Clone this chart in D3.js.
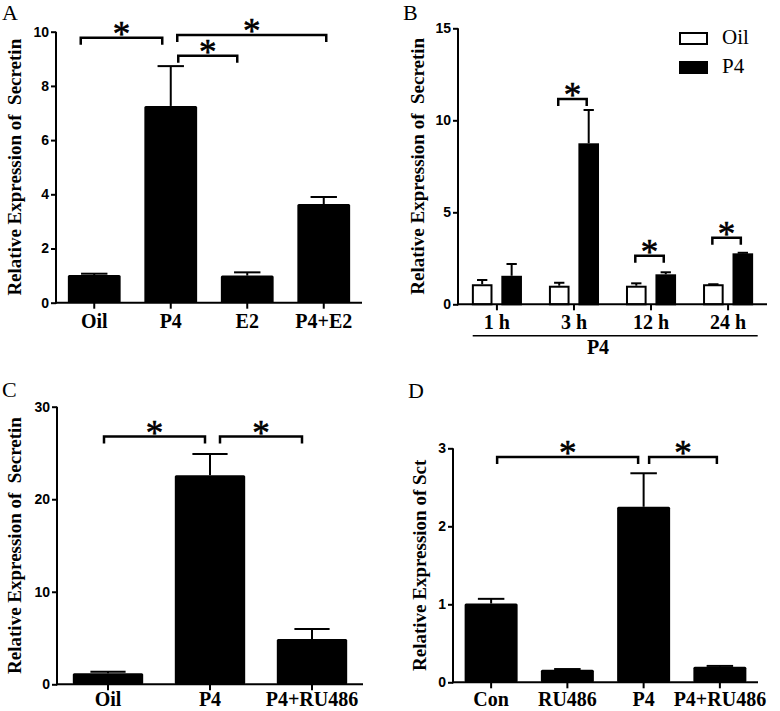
<!DOCTYPE html>
<html>
<head>
<meta charset="utf-8">
<script src="https://cdn.jsdelivr.net/npm/d3@7"></script>
<style>
  html, body { margin: 0; padding: 0; background: #fff; }
  svg { display: block; }
</style>
</head>
<body>
<svg id="chart" width="780" height="711"></svg>
<script>
// ---------- DATA ----------
// Panel A
const catsA = ["Oil", "P4", "E2", "P4+E2"];
const meanA = [1.02, 7.26, 1.00, 3.64];
const semA  = [0.05, 1.47, 0.12, 0.26];
const ticksA = [0, 2, 4, 6, 8, 10];
const sigA = [ // [from, to, bracket height]
  ["Oil", "P4", 9.78],
  ["P4", "P4+E2", 9.88],
  ["P4", "E2", 9.11]
];
// Panel B
const timesB = ["1 h", "3 h", "12 h", "24 h"];
const seriesB = ["Oil", "P4"];
const oilB = [1.09, 1.01, 1.01, 1.09];
const oilSemB = [0.23, 0.16, 0.13, 0.00];
const p4B = [1.55, 8.75, 1.63, 2.77];
const p4SemB = [0.64, 1.81, 0.11, 0.03];
const ticksB = [0, 5, 10, 15];
const sigB = [ ["3 h", 11.16], ["12 h", 2.64], ["24 h", 3.62] ];
// Panel C
const catsC = ["Oil", "P4", "P4+RU486"];
const meanC = [1.19, 22.6, 4.9];
const semC  = [0.17, 2.3, 1.08];
const ticksC = [0, 10, 20, 30];
const sigC = [ ["Oil", "P4", 26.77], ["P4", "P4+RU486", 26.77] ];
// Panel D
const catsD = ["Con", "RU486", "P4", "P4+RU486"];
const meanD = [1.01, 0.16, 2.25, 0.20];
const semD  = [0.06, 0.01, 0.43, 0.01];
const ticksD = [0, 1, 2, 3];
const sigD = [ ["Con", "P4", 2.89], ["P4", "P4+RU486", 2.89] ];

// ---------- DRAWING ----------
const svg = d3.select("#chart");
const SERIF = "'Liberation Serif', 'Times New Roman', serif";
const SANS = "'Liberation Sans', Arial, sans-serif";

function yAxis(g, y, ticks, x0) {
  const ax = g.append("g").attr("transform", `translate(${x0},0)`)
    .call(d3.axisLeft(y).tickValues(ticks).tickSize(5).tickPadding(2).tickFormat(d3.format("d")));
  ax.select(".domain").attr("stroke-width", 2).attr("d", `M0,${y(0)+1}V${y(ticks[ticks.length-1])}`);
  ax.selectAll(".tick line").attr("stroke-width", 2);
  ax.selectAll(".tick text").style("font-family", SANS).style("font-weight", "bold")
    .style("font-size", "14px").attr("fill", "#000");
  ax.attr("font-family", null).attr("font-size", null);
  return ax;
}
function xAxis(g, xScale, y0, x0, x1, pad) {
  const ax = g.append("g").attr("transform", `translate(0,${y0})`)
    .call(d3.axisBottom(xScale).tickSize(6).tickPadding(pad));
  ax.select(".domain").attr("stroke-width", 2).attr("d", `M${x0-1},0H${x1}`);
  ax.selectAll(".tick line").attr("stroke-width", 2);
  ax.selectAll(".tick text").style("font-family", SERIF).style("font-weight", "bold")
    .style("font-size", "20px").attr("fill", "#000");
  return ax;
}
function yLabel(text, cx, cy) {
  svg.append("text").attr("transform", `translate(${cx},${cy}) rotate(-90)`)
    .attr("text-anchor", "middle").style("font-family", SERIF).style("font-weight", "bold")
    .style("font-size", "19px").text(text);
}
function letter(t, x, y) {
  svg.append("text").attr("x", x).attr("y", y).style("font-family", SERIF)
    .style("font-size", "22px").text(t);
}
function bracket(g, xa, xb, yy) {
  g.append("path").attr("d", `M${xa},${yy+7}V${yy}H${xb}V${yy+7}`)
    .attr("fill", "none").attr("stroke", "#000").attr("stroke-width", 2.5);
  g.append("text").attr("x", (xa+xb)/2).attr("y", yy + 8).attr("text-anchor", "middle")
    .style("font-family", SERIF).style("font-size", "35px").attr("stroke", "#000")
    .attr("stroke-width", 0.6).text("*");
}
function errBar(g, cx, yTop, yErr, capW) {
  g.append("line").attr("x1", cx).attr("x2", cx).attr("y1", yTop).attr("y2", yErr)
    .attr("stroke", "#000").attr("stroke-width", 2);
  g.append("line").attr("x1", cx - capW/2).attr("x2", cx + capW/2).attr("y1", yErr).attr("y2", yErr)
    .attr("stroke", "#000").attr("stroke-width", 2);
}

function simplePanel(o) {
  const g = svg.append("g");
  const x = d3.scaleBand().domain(o.cats).range([o.x0, o.x1]).paddingInner(o.pi).paddingOuter(o.pi/2);
  const y = d3.scaleLinear().domain([0, o.ymax]).range([o.y0, o.y1]);
  const bw = x.bandwidth();
  o.cats.forEach((c, i) => {
    errBar(g, x(c) + bw/2, y(o.mean[i]), y(o.mean[i] + o.sem[i]), bw/2);
  });
  g.selectAll("rect.bar").data(o.cats).join("rect").attr("class", "bar")
    .attr("x", d => x(d)).attr("width", bw)
    .attr("y", (d, i) => y(o.mean[i])).attr("height", (d, i) => y(0) - y(o.mean[i]))
    .attr("fill", "#000").attr("rx", 1.5);
  yAxis(g, y, o.ticks, o.x0);
  xAxis(g, x, o.y0, o.x0, o.x1, o.pad);
  o.sig.forEach((s, k) => {
    const off = o.offs[k];
    bracket(g, x(s[0]) + bw/2 + off[0], x(s[1]) + bw/2 + off[1], y(s[2]));
  });
  yLabel(o.label, o.labelX, (o.y0 + o.y1)/2);
}

// Panel A
simplePanel({cats: catsA, mean: meanA, sem: semA, ticks: ticksA, sig: sigA,
  x0: 56, x1: 362, y0: 302.7, y1: 31.7, ymax: 10, pi: 0.31, pad: 5,
  offs: [[-13.5, -8.5], [6.5, 2.5], [7.5, -10]],
  label: "Relative Expression of \u00a0Secretin", labelX: 21});
letter("A", 2, 20);

// Panel C
simplePanel({cats: catsC, mean: meanC, sem: semC, ticks: ticksC, sig: sigC,
  x0: 57, x1: 363, y0: 684.3, y1: 406.7, ymax: 30, pi: 0.31, pad: 2,
  offs: [[-4, -5], [10, -10]],
  label: "Relative Expression of \u00a0Secretin", labelX: 21});
letter("C", 2, 397);

// Panel D
simplePanel({cats: catsD, mean: meanD, sem: semD, ticks: ticksD, sig: sigD,
  x0: 453, x1: 758, y0: 682.3, y1: 448.3, ymax: 3, pi: 0.305, pad: 4,
  offs: [[6, -5.5], [5.5, -3]],
  label: "Relative Expression of Sct", labelX: 426});
letter("D", 408, 398);

// Panel B (grouped)
(function () {
  const g = svg.append("g");
  const x0 = 458, x1 = 767, y0 = 304.3, y1 = 28.3;
  const x = d3.scaleBand().domain(timesB).range([x0, x1]).paddingInner(0.35).paddingOuter(0.18);
  const xs = d3.scaleBand().domain(seriesB).range([0, x.bandwidth()]).paddingInner(0.3).paddingOuter(0);
  const y = d3.scaleLinear().domain([0, 15]).range([y0, y1]);
  const bw = xs.bandwidth();
  const vals = {Oil: oilB, P4: p4B}, sems = {Oil: oilSemB, P4: p4SemB};
  timesB.forEach((t, i) => {
    seriesB.forEach(s => {
      const bx = x(t) + xs(s);
      errBar(g, bx + bw/2, y(vals[s][i]), y(vals[s][i] + sems[s][i]), bw/2);
      g.append("rect").attr("x", bx + 1).attr("width", bw - 2)
        .attr("y", y(vals[s][i]) + 1).attr("height", y(0) - y(vals[s][i]) - 1)
        .attr("fill", s === "Oil" ? "#fff" : "#000").attr("stroke", "#000").attr("stroke-width", 2);
    });
  });
  yAxis(g, y, ticksB, x0);
  xAxis(g, x, y0, x0, x1, 5);
  sigB.forEach(s => {
    const xa = x(s[0]) + xs("Oil") + bw/2 - 1, xb = x(s[0]) + xs("P4") + bw/2 - 2;
    bracket(g, xa, xb, y(s[1]));
  });
  // group underline and label
  g.append("line").attr("x1", 472.7).attr("x2", 757.7).attr("y1", 335.7).attr("y2", 335.7)
    .attr("stroke", "#000").attr("stroke-width", 1.5);
  g.append("text").attr("x", 598).attr("y", 354).attr("text-anchor", "middle")
    .style("font-family", SERIF).style("font-weight", "bold").style("font-size", "20px").text("P4");
  // legend
  const leg = g.append("g");
  seriesB.forEach((s, i) => {
    leg.append("rect").attr("x", 680).attr("y", 33 + i*29).attr("width", 27).attr("height", 11)
      .attr("fill", s === "Oil" ? "#fff" : "#000").attr("stroke", "#000").attr("stroke-width", 2);
    leg.append("text").attr("x", 722).attr("y", 44 + i*29).style("font-family", SERIF)
      .style("font-size", "21px").text(s);
  });
  yLabel("Relative Expression of \u00a0Secretin", 424, (y0 + y1)/2);
})();
letter("B", 403, 20);
</script>
</body>
</html>
